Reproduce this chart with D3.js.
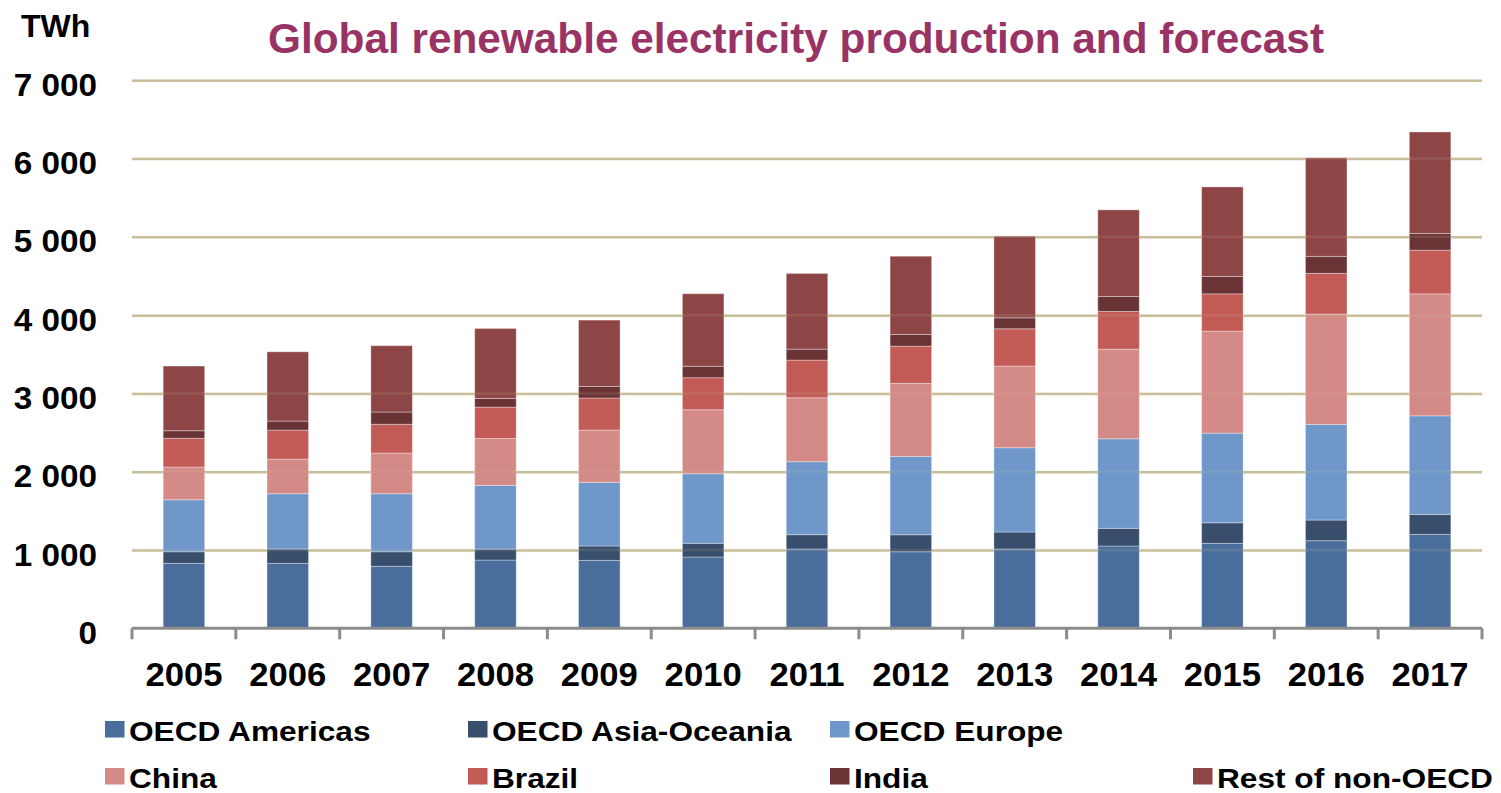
<!DOCTYPE html>
<html>
<head>
<meta charset="utf-8">
<script src="https://cdn.jsdelivr.net/npm/d3@7"></script>
<style>
  html, body { margin: 0; padding: 0; background: #ffffff; }
  svg { display: block; }
  text { font-family: "Liberation Sans", Arial, sans-serif; font-weight: bold; }
</style>
</head>
<body>
<svg id="chart" width="1501" height="793"></svg>
<script>
// ---- data ----
const years = ["2005","2006","2007","2008","2009","2010","2011","2012","2013","2014","2015","2016","2017"];
const seriesNames = ["OECD Americas","OECD Asia-Oceania","OECD Europe","China","Brazil","India","Rest of non-OECD"];
const oecdAmericas   = [830, 830, 792, 872, 868, 911, 1013, 978, 1013, 1051, 1085, 1119, 1200];
const oecdAsiaOceania= [148, 183, 186, 140, 183, 175, 183, 217, 217, 226, 263, 264, 255];
const oecdEurope     = [664, 706, 741, 813, 813, 889, 932, 1001, 1077, 1144, 1145, 1222, 1259];
const china          = [418, 443, 520, 600, 668, 817, 817, 932, 1043, 1145, 1303, 1409, 1558];
const brazil         = [367, 370, 367, 400, 409, 409, 481, 476, 476, 481, 476, 520, 558];
const india          = [97, 115, 157, 111, 149, 146, 140, 149, 140, 192, 222, 217, 213];
const restNonOECD    = [826, 885, 847, 894, 847, 927, 967, 1000, 1043, 1106, 1144, 1259, 1297];
const yTicks = [0, 1000, 2000, 3000, 4000, 5000, 6000, 7000];
const colors = ["#4a6e9c", "#384e6c", "#6f97c9", "#d48a87", "#c25b56", "#6a3436", "#8d4545"];
const titleText = "Global renewable electricity production and forecast";
const unitText = "TWh";

(function () {
// ---- build table ----
const seriesValues = [oecdAmericas, oecdAsiaOceania, oecdEurope, china, brazil, india, restNonOECD];
const table = years.map((yr, i) => {
  const row = { year: yr };
  seriesNames.forEach((s, k) => { row[s] = seriesValues[k][i]; });
  return row;
});
const stacked = d3.stack().keys(seriesNames)(table);

const svg = d3.select("#chart");
const pLeft = 132, pRight = 1482, pTop = 80.3, pBottom = 628.3;

const x = d3.scaleBand().domain(years).range([pLeft, pRight]).paddingInner(0.6).paddingOuter(0.3);
const y = d3.scaleLinear().domain([0, 7000]).range([pBottom, pTop]);

const fmt = d3.formatLocale({ decimal: ".", thousands: " ", grouping: [3], currency: ["", ""] }).format(",");

function stretch(sel, factor) {
  sel.each(function () {
    const w = this.getComputedTextLength();
    d3.select(this).attr("textLength", w * factor).attr("lengthAdjust", "spacingAndGlyphs");
  });
}

// gridlines + y labels via axis
const yAxis = d3.axisLeft(y).tickValues(yTicks).tickSize(-(pRight - pLeft)).tickPadding(35).tickFormat(fmt);
const gy = svg.append("g").attr("transform", `translate(${pLeft},0)`).call(yAxis);
gy.select(".domain").remove();
gy.selectAll(".tick line").attr("stroke", "#c9c09b").attr("stroke-width", 2.5)
  .filter(d => d === 0).remove();
gy.selectAll(".tick text")
  .attr("font-size", 32).attr("font-family", "Liberation Sans, Arial, sans-serif").attr("font-weight", "bold")
  .attr("fill", "#000").attr("dy", null).attr("y", 15);
stretch(gy.selectAll(".tick text"), 1.04);

// bars
const layers = svg.append("g").selectAll("g").data(stacked).join("g")
  .attr("fill", (d, i) => colors[i]);
layers.selectAll("rect").data(d => d).join("rect")
  .attr("x", d => x(d.data.year))
  .attr("width", x.bandwidth())
  .attr("y", d => y(d[1]))
  .attr("height", d => y(d[0]) - y(d[1]))
  .attr("stroke", "rgba(255,255,255,0.35)")
  .attr("stroke-width", 1);

// faint gridlines over bars
svg.append("g").selectAll("line").data(yTicks.filter(t => t > 0)).join("line")
  .attr("x1", pLeft).attr("x2", pRight)
  .attr("y1", d => y(d)).attr("y2", d => y(d))
  .attr("stroke", "#c9c09b").attr("stroke-width", 2.5).attr("opacity", 0.15);

// x axis line and boundary ticks
const step = x.step();
const bounds = d3.range(years.length + 1).map(i => pLeft + i * step);
svg.append("line").attr("x1", pLeft).attr("x2", pRight).attr("y1", pBottom).attr("y2", pBottom)
  .attr("stroke", "#8c8c8c").attr("stroke-width", 3);
svg.append("g").selectAll("line").data(bounds).join("line")
  .attr("x1", d => d).attr("x2", d => d).attr("y1", pBottom).attr("y2", pBottom + 11)
  .attr("stroke", "#8c8c8c").attr("stroke-width", 3);

// x labels via axis
const xAxis = d3.axisBottom(x).tickSize(0).tickPadding(0);
const gx = svg.append("g").attr("transform", `translate(0,${pBottom})`).call(xAxis);
gx.select(".domain").remove();
gx.selectAll(".tick text")
  .attr("font-size", 33).attr("font-family", "Liberation Sans, Arial, sans-serif").attr("font-weight", "bold")
  .attr("fill", "#000").attr("dy", null).attr("y", 57.5);
stretch(gx.selectAll(".tick text"), 1.05);

// title and unit
svg.append("text").attr("x", 268).attr("y", 53).attr("font-size", 43).attr("fill", "#993366")
  .attr("textLength", 1056).attr("lengthAdjust", "spacingAndGlyphs").text(titleText);
svg.append("text").attr("x", 21).attr("y", 36.5).attr("font-size", 32).attr("fill", "#000").text(unitText);

// legend
const legendPos = [
  { col: 0, row: 0 }, { col: 1, row: 0 }, { col: 2, row: 0 },
  { col: 0, row: 1 }, { col: 1, row: 1 }, { col: 2, row: 1 }, { col: 3, row: 1 }
];
const colX = [105, 468, 830, 1193];
const rowY = [741, 788];
const lg = svg.append("g").selectAll("g").data(seriesNames).join("g")
  .attr("transform", (d, i) => `translate(${colX[legendPos[i].col]},${rowY[legendPos[i].row]})`);
lg.append("rect").attr("x", 0).attr("y", -20).attr("width", 19.5).attr("height", 16.5)
  .attr("fill", (d, i) => colors[i]);
const lt = lg.append("text").attr("x", 24).attr("y", 0).attr("font-size", 28).attr("fill", "#000").text(d => d);
stretch(lt, 1.13);
})();
</script>
</body>
</html>
